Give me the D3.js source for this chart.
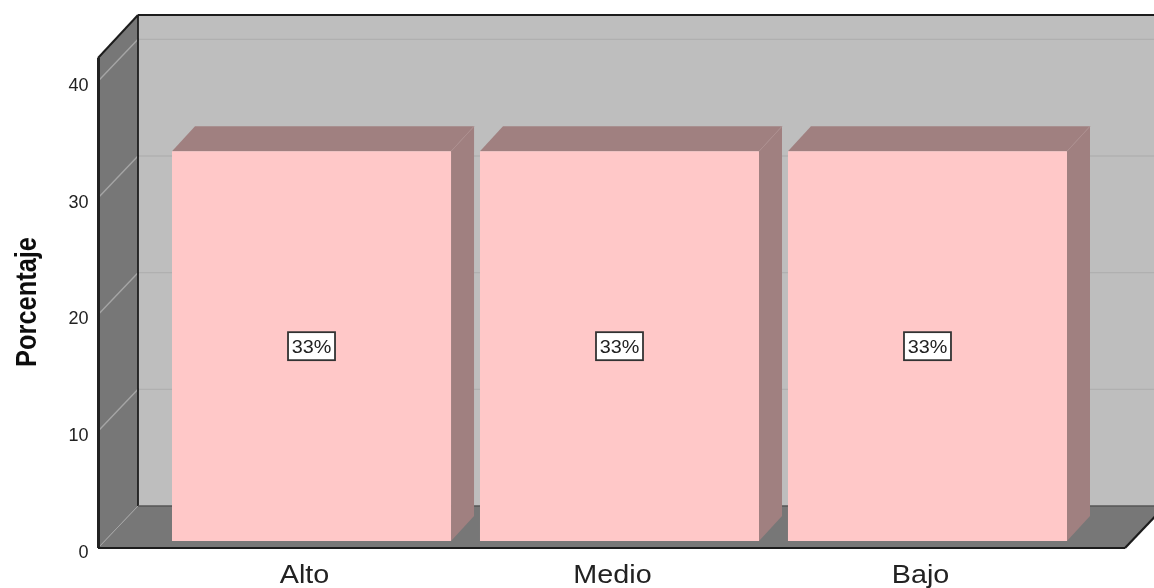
<!DOCTYPE html>
<html><head><meta charset="utf-8">
<script src="https://cdn.jsdelivr.net/npm/d3@7"></script>
<style>html,body{margin:0;padding:0;background:#fff;overflow:hidden}svg{display:block}text{font-family:"Liberation Sans",Arial,sans-serif}</style>
</head><body><svg id="c" width="1154" height="588"></svg>
<script>
const categories = ["Alto","Medio","Bajo"];
const values = [33.4,33.4,33.4];
const barLabels = ["33%","33%","33%"];
const yTicks = [0,10,20,30,40];
const yTitle = "Porcentaje";

(function(){
const W=1154,H=588;
const depthX=40, depthY=42;
const svg=d3.select("#c");
const root=svg.append("g").attr("filter","url(#soft)");
svg.append("defs").append("filter").attr("id","soft").attr("filterUnits","userSpaceOnUse")
  .attr("x",0).attr("y",0).attr("width",W).attr("height",H)
  .append("feGaussianBlur").attr("stdDeviation",0.5);
const y=d3.scaleLinear().domain([0,42]).range([548,58]);
const x=d3.scaleBand().domain(categories).range([172,1067]).paddingInner(0.094).paddingOuter(0);
const leftX=98,rightX=1125;
const poly=(pts,fill)=>root.append("polygon").attr("points",pts.map(p=>p.join(",")).join(" ")).attr("fill",fill);
const seg=(x1,y1,x2,y2,st,w)=>root.append("line").attr("x1",x1).attr("y1",y1).attr("x2",x2).attr("y2",y2).attr("stroke",st).attr("stroke-width",w);
const topY=y.range()[1],bot=y.range()[0];
poly([[leftX+depthX,topY-depthY-1],[W+40,topY-depthY-1],[W+40,bot-depthY],[leftX+depthX,bot-depthY]],"#bebebe");
poly([[leftX,topY],[leftX+depthX,topY-depthY-1],[leftX+depthX,bot-depthY],[leftX,bot]],"#777777");
poly([[leftX,bot],[leftX+depthX,bot-depthY],[rightX+depthX,bot-depthY],[rightX,bot]],"#777777");
yTicks.forEach(t=>{
  if(t===0){seg(leftX,y(0),leftX+depthX,y(0)-depthY,"#a5a5a5",1);return;}
  seg(leftX+depthX,y(t)-depthY,W,y(t)-depthY,"#b0b0b0",1.4);
  seg(leftX,y(t),leftX+depthX,y(t)-depthY,"#a5a5a5",1.4);
});
seg(leftX+depthX,topY-depthY-1,W,topY-depthY-1,"#1c1c1c",2);
seg(leftX,topY,leftX+depthX,topY-depthY-1,"#1c1c1c",2);
seg(leftX+depthX,topY-depthY-1,leftX+depthX,bot-depthY,"#1c1c1c",1.8);
seg(leftX+0.5,topY,leftX+0.5,bot,"#222",3);
seg(leftX,bot,rightX,bot,"#1c1c1c",2.2);
seg(rightX,bot,rightX+depthX,bot-depthY,"#1c1c1c",2.2);
seg(leftX+depthX,bot-depthY,W,bot-depthY,"#555555",1.4);
const barDy=7, bx=23, by=25;
const bars=root.selectAll("g.bar").data(categories.map((c,i)=>({c,v:values[i],l:barLabels[i]}))).join("g").attr("class","bar");
bars.each(function(d){
  const g=d3.select(this),x0=x(d.c),x1=x0+x.bandwidth(),y0=y(0)-barDy,yT=y(d.v)-barDy;
  const p=(pts,f)=>g.append("polygon").attr("points",pts.map(q=>q.join(",")).join(" ")).attr("fill",f);
  p([[x0,yT],[x0+bx,yT-by],[x1+bx,yT-by],[x1,yT]],"#a08080");
  p([[x1,yT],[x1+bx,yT-by],[x1+bx,y0-by],[x1,y0]],"#a08080");
  g.append("line").attr("x1",x1).attr("y1",yT).attr("x2",x1+bx).attr("y2",yT-by).attr("stroke","#ae9090").attr("stroke-width",1);
  p([[x0,yT],[x1,yT],[x1,y0],[x0,y0]],"#ffc8c8");
  const cx=(x0+x1)/2,cy=(yT+y0)/2;
  g.append("rect").attr("x",cx-23.5).attr("y",cy-14).attr("width",47).attr("height",28).attr("fill","#fff").attr("stroke","#333").attr("stroke-width",1.8);
  g.append("text").attr("transform",`translate(${cx},${cy+6.5}) scale(1.1,1)`).attr("text-anchor","middle").attr("font-size",18).attr("fill","#222").text(d.l);
});
yTicks.forEach(t=>root.append("text").attr("x",88.5).attr("y",y(t)+9.5).attr("text-anchor","end").attr("font-size",18).attr("fill","#222").text(t));
categories.forEach(c=>root.append("text").attr("transform",`translate(${x(c)+x.bandwidth()/2-7},583) scale(1.15,1)`).attr("text-anchor","middle").attr("font-size",25).attr("fill","#222").text(c));
root.append("text").attr("transform","translate(36,302) rotate(-90)").attr("text-anchor","middle").attr("font-size",29).attr("font-weight","bold").attr("textLength",130).attr("lengthAdjust","spacingAndGlyphs").attr("fill","#111").text(yTitle);
})();
</script></body></html>
